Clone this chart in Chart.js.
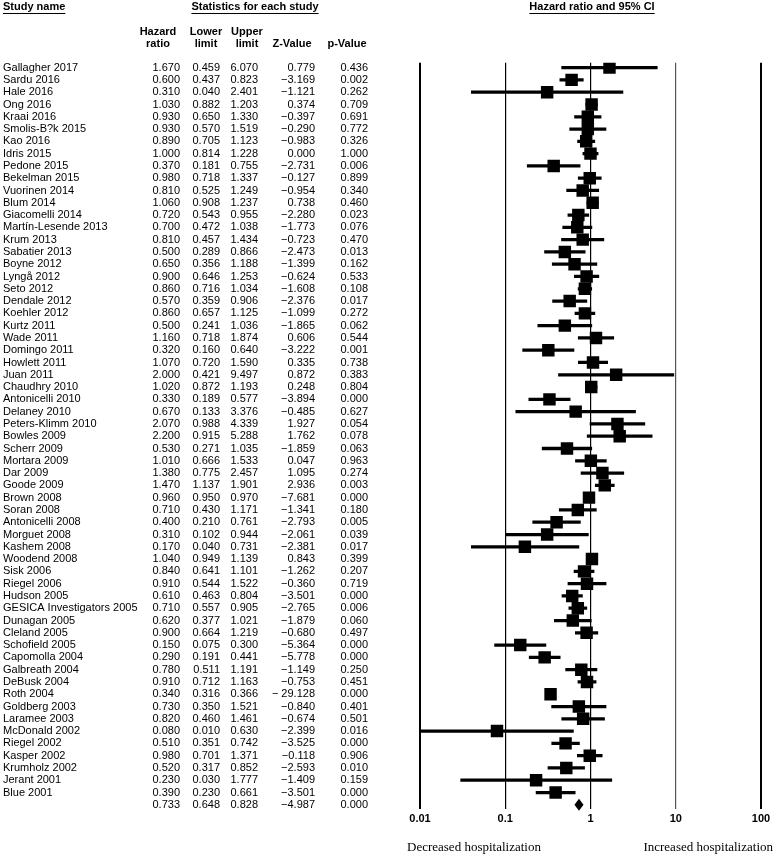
<!DOCTYPE html>
<html>
<head>
<meta charset="utf-8">
<script src="https://cdn.jsdelivr.net/npm/chart.js@4.4.1/dist/chart.umd.min.js"></script>
<style>
html, body { margin: 0; padding: 0; background: #fff; }
#wrap { width: 775px; height: 859px; position: relative; }
</style>
</head>
<body>
<div id="wrap"><canvas id="forest"></canvas></div>
<script>
const studyNames = [
    'Gallagher 2017', 'Sardu 2016', 'Hale 2016', 'Ong 2016', 'Kraai 2016',
    'Smolis-B?k 2015', 'Kao 2016', 'Idris 2015', 'Pedone 2015', 'Bekelman 2015',
    'Vuorinen 2014', 'Blum 2014', 'Giacomelli 2014', 'Martín-Lesende 2013', 'Krum 2013',
    'Sabatier 2013', 'Boyne 2012', 'Lyngå 2012', 'Seto 2012', 'Dendale 2012',
    'Koehler 2012', 'Kurtz 2011', 'Wade 2011', 'Domingo 2011', 'Howlett 2011',
    'Juan 2011', 'Chaudhry 2010', 'Antonicelli 2010', 'Delaney 2010', 'Peters-Klimm 2010',
    'Bowles 2009', 'Scherr 2009', 'Mortara 2009', 'Dar 2009', 'Goode 2009',
    'Brown 2008', 'Soran 2008', 'Antonicelli 2008', 'Morguet 2008', 'Kashem 2008',
    'Woodend 2008', 'Sisk 2006', 'Riegel 2006', 'Hudson 2005', 'GESICA Investigators 2005',
    'Dunagan 2005', 'Cleland 2005', 'Schofield 2005', 'Capomolla 2004', 'Galbreath 2004',
    'DeBusk 2004', 'Roth 2004', 'Goldberg 2003', 'Laramee 2003', 'McDonald 2002',
    'Riegel 2002', 'Kasper 2002', 'Krumholz 2002', 'Jerant 2001', 'Blue 2001'
];

const hazardRatio = [
    1.670, 0.600, 0.310, 1.030, 0.930, 0.930, 0.890, 1.000, 0.370, 0.980,
    0.810, 1.060, 0.720, 0.700, 0.810, 0.500, 0.650, 0.900, 0.860, 0.570,
    0.860, 0.500, 1.160, 0.320, 1.070, 2.000, 1.020, 0.330, 0.670, 2.070,
    2.200, 0.530, 1.010, 1.380, 1.470, 0.960, 0.710, 0.400, 0.310, 0.170,
    1.040, 0.840, 0.910, 0.610, 0.710, 0.620, 0.900, 0.150, 0.290, 0.780,
    0.910, 0.340, 0.730, 0.820, 0.080, 0.510, 0.980, 0.520, 0.230, 0.390
];

const lowerLimit = [
    0.459, 0.437, 0.040, 0.882, 0.650, 0.570, 0.705, 0.814, 0.181, 0.718,
    0.525, 0.908, 0.543, 0.472, 0.457, 0.289, 0.356, 0.646, 0.716, 0.359,
    0.657, 0.241, 0.718, 0.160, 0.720, 0.421, 0.872, 0.189, 0.133, 0.988,
    0.915, 0.271, 0.666, 0.775, 1.137, 0.950, 0.430, 0.210, 0.102, 0.040,
    0.949, 0.641, 0.544, 0.463, 0.557, 0.377, 0.664, 0.075, 0.191, 0.511,
    0.712, 0.316, 0.350, 0.460, 0.010, 0.351, 0.701, 0.317, 0.030, 0.230
];

const upperLimit = [
    6.070, 0.823, 2.401, 1.203, 1.330, 1.519, 1.123, 1.228, 0.755, 1.337,
    1.249, 1.237, 0.955, 1.038, 1.434, 0.866, 1.188, 1.253, 1.034, 0.906,
    1.125, 1.036, 1.874, 0.640, 1.590, 9.497, 1.193, 0.577, 3.376, 4.339,
    5.288, 1.035, 1.533, 2.457, 1.901, 0.970, 1.171, 0.761, 0.944, 0.731,
    1.139, 1.101, 1.522, 0.804, 0.905, 1.021, 1.219, 0.300, 0.441, 1.191,
    1.163, 0.366, 1.521, 1.461, 0.630, 0.742, 1.371, 0.852, 1.777, 0.661
];

const zValue = [
    0.779, -3.169, -1.121, 0.374, -0.397, -0.290, -0.983, 0.000, -2.731, -0.127,
    -0.954, 0.738, -2.280, -1.773, -0.723, -2.473, -1.399, -0.624, -1.608, -2.376,
    -1.099, -1.865, 0.606, -3.222, 0.335, 0.872, 0.248, -3.894, -0.485, 1.927,
    1.762, -1.859, 0.047, 1.095, 2.936, -7.681, -1.341, -2.793, -2.061, -2.381,
    0.843, -1.262, -0.360, -3.501, -2.765, -1.879, -0.680, -5.364, -5.778, -1.149,
    -0.753, -29.128, -0.840, -0.674, -2.399, -3.525, -0.118, -2.593, -1.409, -3.501
];

const pValue = [
    0.436, 0.002, 0.262, 0.709, 0.691, 0.772, 0.326, 1.000, 0.006, 0.899,
    0.340, 0.460, 0.023, 0.076, 0.470, 0.013, 0.162, 0.533, 0.108, 0.017,
    0.272, 0.062, 0.544, 0.001, 0.738, 0.383, 0.804, 0.000, 0.627, 0.054,
    0.078, 0.063, 0.963, 0.274, 0.003, 0.000, 0.180, 0.005, 0.039, 0.017,
    0.399, 0.207, 0.719, 0.000, 0.006, 0.060, 0.497, 0.000, 0.000, 0.250,
    0.451, 0.000, 0.401, 0.501, 0.016, 0.000, 0.906, 0.010, 0.159, 0.000
];

// pooled estimate: hazard ratio, lower, upper, z, p
const summaryRow = [0.733, 0.648, 0.828, -4.987, 0.000];

const xTicks = [0.01, 0.1, 1, 10, 100];
const xTickLabels = ['0.01', '0.1', '1', '10', '100'];

const SANS = '"Liberation Sans", Arial, sans-serif';
const SERIF = '"Liberation Serif", "Times New Roman", serif';

function fmt(v) {
    const s = Math.abs(v).toFixed(3);
    if (v >= 0) return s;
    // the wide value keeps a gap after its minus sign
    return Math.abs(v) >= 10 ? '\u2212 ' + s : '\u2212' + s;
}

function underlined(ctx, text, x, y, align) {
    ctx.textAlign = align;
    ctx.fillText(text, x, y);
    const w = ctx.measureText(text).width;
    let x0 = x;
    if (align === 'center') x0 = x - w / 2;
    if (align === 'right') x0 = x - w;
    ctx.fillRect(x0, y + 6, w, 1);
}

const colRight = [180, 220, 258, 315, 368];

const tablePlugin = {
    id: 'studyTable',
    afterDraw(chart) {
        const ctx = chart.ctx;
        const yScale = chart.scales.y;
        ctx.save();
        ctx.fillStyle = '#000';
        ctx.textBaseline = 'middle';

        ctx.font = 'bold 11px ' + SANS;
        underlined(ctx, 'Study name', 3, 7, 'left');
        underlined(ctx, 'Statistics for each study', 255, 7, 'center');
        underlined(ctx, 'Hazard ratio and 95% CI', 592, 7, 'center');

        ctx.textAlign = 'center';
        ctx.fillText('Hazard', 158, 32);
        ctx.fillText('ratio', 158, 44);
        ctx.fillText('Lower', 206, 32);
        ctx.fillText('limit', 206, 44);
        ctx.fillText('Upper', 247, 32);
        ctx.fillText('limit', 247, 44);
        ctx.fillText('Z-Value', 292, 44);
        ctx.fillText('p-Value', 347, 44);

        ctx.font = '11px ' + SANS;
        studyNames.forEach((name, i) => {
            const y = yScale.getPixelForValue(i);
            ctx.textAlign = 'left';
            ctx.fillText(name, 3, y);
            ctx.textAlign = 'right';
            const vals = [hazardRatio[i], lowerLimit[i], upperLimit[i], zValue[i], pValue[i]];
            vals.forEach((v, c) => ctx.fillText(fmt(v), colRight[c], y));
        });

        const ys = yScale.getPixelForValue(studyNames.length);
        ctx.textAlign = 'right';
        summaryRow.forEach((v, c) => ctx.fillText(fmt(v), colRight[c], ys));

        ctx.font = '13px ' + SERIF;
        ctx.textAlign = 'left';
        ctx.fillText('Decreased hospitalization', 407, 848);
        ctx.textAlign = 'right';
        ctx.fillText('Increased hospitalization', 773, 848);
        ctx.restore();
    }
};

const diamondPlugin = {
    id: 'summaryDiamond',
    afterDatasetsDraw(chart) {
        const ctx = chart.ctx;
        const xs = chart.scales.x;
        const y = chart.scales.y.getPixelForValue(studyNames.length);
        const xl = xs.getPixelForValue(summaryRow[1]);
        const xm = xs.getPixelForValue(summaryRow[0]);
        const xr = xs.getPixelForValue(summaryRow[2]);
        ctx.save();
        ctx.fillStyle = '#000';
        ctx.beginPath();
        ctx.moveTo(xl, y);
        ctx.lineTo(xm, y - 6);
        ctx.lineTo(xr, y);
        ctx.lineTo(xm, y + 6);
        ctx.closePath();
        ctx.fill();
        ctx.restore();
    }
};

const ctx = document.getElementById('forest').getContext('2d');

new Chart(ctx, {
    type: 'bar',
    data: {
        datasets: [
            {
                type: 'bar',
                indexAxis: 'y',
                data: studyNames.map((n, i) => ({ x: [lowerLimit[i], upperLimit[i]], y: i })),
                backgroundColor: '#000',
                borderWidth: 0,
                barThickness: 2.6
            },
            {
                type: 'scatter',
                data: studyNames.map((n, i) => ({ x: hazardRatio[i], y: i })),
                pointStyle: 'rect',
                pointRadius: 8.8,
                backgroundColor: '#000',
                borderWidth: 0
            }
        ]
    },
    options: {
        responsive: true,
        maintainAspectRatio: false,
        animation: false,
        indexAxis: 'y',
        layout: {
            padding: { left: 420, right: 14, top: 62.7, bottom: 30.3 }
        },
        plugins: {
            legend: { display: false },
            tooltip: { enabled: false }
        },
        scales: {
            x: {
                type: 'logarithmic',
                min: 0.01,
                max: 100,
                offset: false,
                afterBuildTicks: axis => {
                    axis.ticks = xTicks.map(v => ({ value: v }));
                },
                ticks: {
                    autoSkip: false,
                    maxRotation: 0,
                    padding: 3.5,
                    color: '#000',
                    font: { family: SANS, size: 11, weight: 'bold' },
                    callback: (v, i) => xTickLabels[i]
                },
                grid: {
                    drawTicks: false,
                    offset: false,
                    color: c => c.index === 3 ? '#555' : '#000',
                    lineWidth: c => (c.index === 0 || c.index === 4) ? 2 : 1.2
                },
                border: { display: false }
            },
            y: {
                type: 'linear',
                min: -0.4,
                max: 60.3,
                offset: false,
                reverse: true,
                display: false
            }
        }
    },
    plugins: [diamondPlugin, tablePlugin]
});
</script>
</body>
</html>
